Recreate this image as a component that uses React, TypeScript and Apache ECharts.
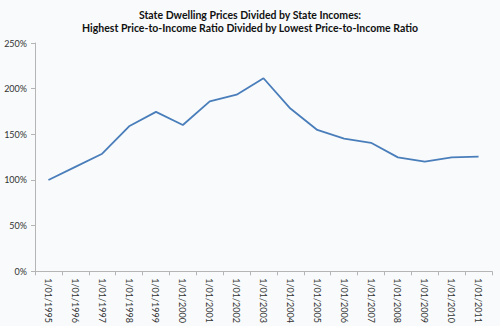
import React, { useEffect, useRef } from "react";
import * as echarts from "echarts";

const categories = [
  "1/01/1995", "1/01/1996", "1/01/1997", "1/01/1998", "1/01/1999", "1/01/2000",
  "1/01/2001", "1/01/2002", "1/01/2003", "1/01/2004", "1/01/2005", "1/01/2006",
  "1/01/2007", "1/01/2008", "1/01/2009", "1/01/2010", "1/01/2011",
];
const ratioValues = [100, 114.4, 128.8, 158.8, 174.6, 160.2, 186.1, 193.4, 211.4, 178.2, 154.8, 145.4, 140.7, 124.8, 120.1, 124.8, 125.5];
const titleLines = [
  "State Dwelling Prices Divided by State Incomes:",
  "Highest Price-to-Income Ratio Divided by Lowest Price-to-Income Ratio",
];

export default function App() {
  const ref = useRef<HTMLDivElement>(null);
  useEffect(() => {
    if (!ref.current) return;
    const chart = echarts.init(ref.current, null, { renderer: "svg" });
    const font = "Lato, 'Open Sans', sans-serif";
    chart.setOption({
      animation: false,
      backgroundColor: "#f8fafb",
      title: {
        text: titleLines.join("\n"),
        left: "center",
        top: 3,
        textStyle: { fontFamily: font, fontSize: 10.5, fontWeight: "bold", color: "#111", lineHeight: 13 },
      },
      grid: { left: 35, right: 8, top: 43, bottom: 52 },
      xAxis: {
        type: "category",
        data: categories,
        boundaryGap: true,
        axisLine: { lineStyle: { color: "#b5b5b5" } },
        axisTick: { show: true, length: 4, lineStyle: { color: "#b5b5b5" } },
        axisLabel: { rotate: -90, fontFamily: font, fontSize: 9, color: "#333", margin: 7, interval: 0 },
      },
      yAxis: {
        type: "value",
        min: 0,
        max: 250,
        interval: 50,
        axisLine: { show: true, lineStyle: { color: "#b5b5b5" } },
        axisTick: { show: true, length: 4, lineStyle: { color: "#b5b5b5" } },
        splitLine: { show: false },
        axisLabel: { formatter: "{value}%", fontFamily: font, fontSize: 9, color: "#333", margin: 8 },
      },
      series: [
        {
          type: "line",
          data: ratioValues,
          symbol: "none",
          lineStyle: { color: "#4a7ebb", width: 1.8 },
        },
      ],
    });
    return () => chart.dispose();
  }, []);
  return <div ref={ref} style={{ width: 500, height: 326, position: "absolute", left: 0, top: 0 }} />;
}
